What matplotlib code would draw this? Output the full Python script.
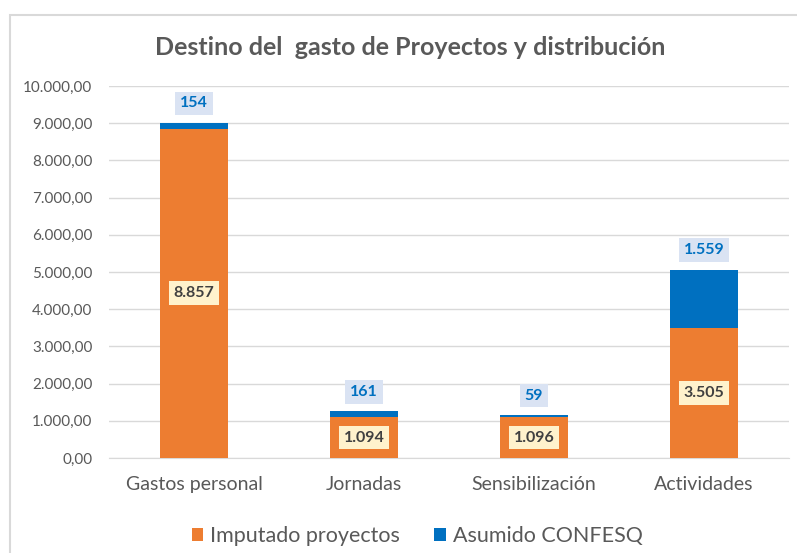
import matplotlib.pyplot as plt
from matplotlib.patches import Rectangle
from matplotlib.ticker import FuncFormatter

# Datos del gráfico
categorias = ['Gastos personal', 'Jornadas', 'Sensibilización', 'Actividades']
imputado = [8857, 1094, 1096, 3505]
asumido = [154, 161, 59, 1559]
series = ['Imputado proyectos', 'Asumido CONFESQ']

naranja = '#ED7D31'
azul = '#0070C0'
gris = '#595959'

plt.rcParams['font.family'] = ['Lato', 'DejaVu Sans']

def miles(v):
    # formato español: 1.234
    return f'{v:,.0f}'.replace(',', '.')

fig = plt.figure(figsize=(7.97, 5.53), dpi=100)
ax = fig.add_axes([0.1368, 0.1718, 0.853, 0.6727])

x = range(len(categorias))
b1 = ax.bar(x, imputado, width=0.4, color=naranja, label=series[0], zorder=3)
b2 = ax.bar(x, asumido, width=0.4, bottom=imputado, color=azul, label=series[1], zorder=3)

# Etiquetas de datos
for i, (a, b) in enumerate(zip(imputado, asumido)):
    ax.text(i, a / 2, miles(a), ha='center', va='center', fontsize=11.5, fontweight='bold',
            color='#404040', zorder=4,
            bbox=dict(boxstyle='square,pad=0.3', fc='#FFF2CC', ec='none'))
    ax.annotate(miles(b), (i, a + b), xytext=(0, 14), textcoords='offset points',
                ha='center', va='center', fontsize=11.5, fontweight='bold', color=azul, zorder=4,
                bbox=dict(boxstyle='square,pad=0.3', fc='#DAE3F3', ec='none'))

ax.set_ylim(0, 10000)
ax.set_xlim(-0.5, 3.5)
ax.set_yticks(range(0, 10001, 1000))
ax.yaxis.set_major_formatter(FuncFormatter(lambda v, p: f'{v:,.2f}'.replace(',', 'X').replace('.', ',').replace('X', '.')))
ax.set_xticks(list(x))
ax.set_xticklabels(categorias)
ax.tick_params(axis='y', length=0, pad=12, labelsize=11, labelcolor=gris)
ax.tick_params(axis='x', length=0, pad=13, labelsize=14, labelcolor=gris)
ax.grid(axis='y', color='#D9D9D9', linewidth=1, zorder=0)
for s in ax.spines.values():
    s.set_visible(False)
ax.spines['bottom'].set_visible(True)
ax.spines['bottom'].set_color('#D9D9D9')

fig.text(0.515, 0.914, 'Destino del  gasto de Proyectos y distribución', ha='center', va='center',
         fontsize=18, fontweight='bold', color=gris)

ax.legend(loc='upper center', bbox_to_anchor=(0.453, -0.13), ncol=2, frameon=False,
          fontsize=15.5, labelcolor=gris, handlelength=0.55, handleheight=0.55,
          handletextpad=0.3, columnspacing=1.6)

# Marco del gráfico
fig.patches.append(Rectangle((10 / 797, -0.1), 1.2, 1 - 15 / 553 + 0.1, transform=fig.transFigure,
                             fill=False, ec='#D9D9D9', lw=1.5))

fig.savefig('out.png', dpi=100)
